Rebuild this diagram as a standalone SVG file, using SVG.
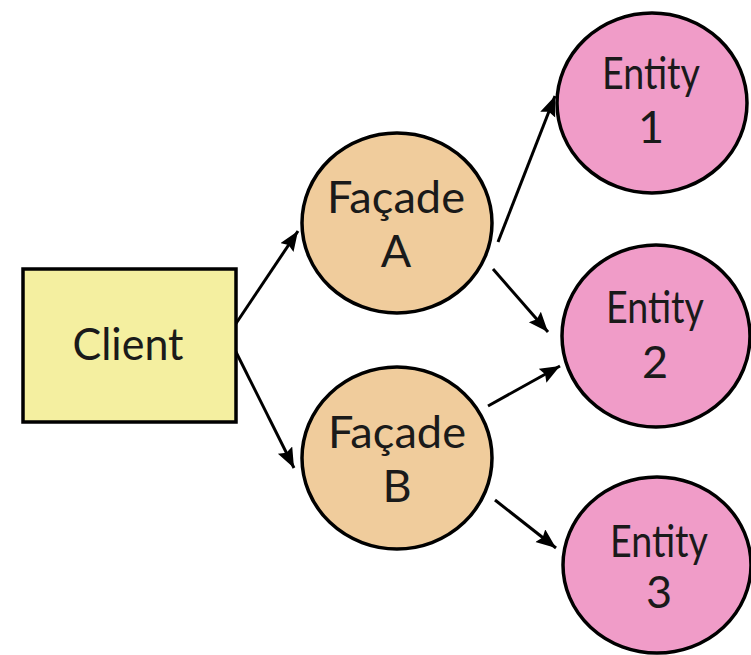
<svg xmlns="http://www.w3.org/2000/svg" width="751" height="655" viewBox="0 0 751 655">
  <style>
    .shape { stroke: #000; stroke-width: 3.5; }
    .client { fill: #f4efa0; }
    .facade { fill: #f0cc9c; }
    .entity { fill: #f09cc8; }
    .label { font-family: Lato, "Liberation Sans", sans-serif; font-size: 45px; fill: #1a1a1a; text-anchor: middle; }
    .link { stroke: #000; stroke-width: 3; fill: none; marker-end: url(#arrow); }
  </style>
  <defs>
    <marker id="arrow" markerUnits="userSpaceOnUse" markerWidth="22" markerHeight="18" refX="20" refY="8" orient="auto">
      <path d="M0,0 L20,8 L0,16 L3,8 z" fill="#000"/>
    </marker>
  </defs>
  <rect width="751" height="655" fill="#fff"/>

  <g id="connectors">
    <line class="link" x1="235" y1="325" x2="298" y2="231"/>
    <line class="link" x1="235" y1="350" x2="294" y2="468"/>
    <line class="link" x1="498" y1="242" x2="555" y2="96"/>
    <line class="link" x1="493" y1="269" x2="548" y2="332"/>
    <line class="link" x1="488" y1="406" x2="560" y2="366"/>
    <line class="link" x1="495" y1="500" x2="556" y2="548"/>
  </g>

  <g id="client">
    <rect class="shape client" x="23" y="269" width="213" height="153"/>
    <text class="label" x="128" y="360" textLength="111" lengthAdjust="spacingAndGlyphs">Client</text>
  </g>

  <g id="facade-a">
    <ellipse class="shape facade" cx="397" cy="223" rx="95" ry="90"/>
    <text class="label" x="396" y="213" textLength="138" lengthAdjust="spacingAndGlyphs">Façade</text>
    <text class="label" x="396" y="267">A</text>
  </g>

  <g id="facade-b">
    <ellipse class="shape facade" cx="397" cy="458" rx="95" ry="91"/>
    <text class="label" x="397" y="448" textLength="138" lengthAdjust="spacingAndGlyphs">Façade</text>
    <text class="label" x="397" y="502">B</text>
  </g>

  <g id="entity-1">
    <ellipse class="shape entity" cx="652" cy="103" rx="95" ry="90"/>
    <text class="label" x="651" y="89" textLength="98" lengthAdjust="spacingAndGlyphs">Entity</text>
    <text class="label" x="651" y="143">1</text>
  </g>

  <g id="entity-2">
    <ellipse class="shape entity" cx="656" cy="336" rx="94" ry="91"/>
    <text class="label" x="655" y="323" textLength="98" lengthAdjust="spacingAndGlyphs">Entity</text>
    <text class="label" x="655" y="378">2</text>
  </g>

  <g id="entity-3">
    <ellipse class="shape entity" cx="657" cy="565" rx="94" ry="88"/>
    <text class="label" x="659" y="557" textLength="98" lengthAdjust="spacingAndGlyphs">Entity</text>
    <text class="label" x="659" y="608">3</text>
  </g>
</svg>
